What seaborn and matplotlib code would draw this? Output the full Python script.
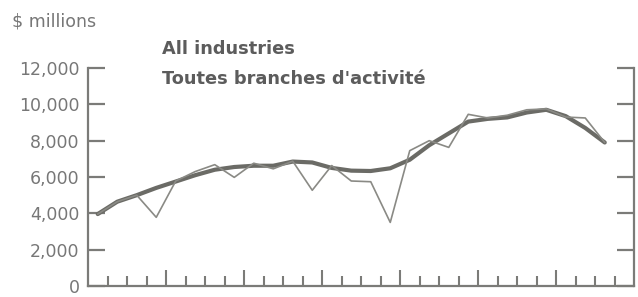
import matplotlib
matplotlib.use("Agg")
import matplotlib.pyplot as plt
import numpy as np
import pandas as pd
import seaborn as sns
from matplotlib.ticker import FixedLocator, FuncFormatter

# quarterly values, $ millions (27 quarters shown on a 28-quarter axis)
quarter = np.arange(1, 28)
actual = [3960, 4640, 5000, 3780, 5780, 6300, 6680, 5980, 6760, 6450,
          6870, 5270, 6630, 5780, 5740, 3500, 7450, 8000, 7630, 9450,
          9250, 9400, 9700, 9750, 9300, 9250, 7900]
trend = [3960, 4640, 5000, 5400, 5750, 6100, 6400, 6550, 6620, 6620,
         6850, 6800, 6500, 6350, 6330, 6480, 6950, 7750, 8400, 9050,
         9200, 9280, 9550, 9700, 9350, 8700, 7900]
y_ticks = [0, 2000, 4000, 6000, 8000, 10000, 12000]

df = pd.DataFrame({"q": quarter - 0.5, "actual": actual, "trend": trend})

sns.set_style("white")
plt.rcParams["font.family"] = ["DejaVu Sans"]

axis_color = "#7b7b78"
text_color = "#777777"

fig = plt.figure(figsize=(6.38, 2.97), dpi=100)
ax = fig.add_axes([88 / 638, 11 / 297, 546 / 638, 218 / 297])

sns.lineplot(data=df, x="q", y="trend", ax=ax, color="#6b6b66", linewidth=3.0,
             solid_joinstyle="round", solid_capstyle="round")
sns.lineplot(data=df, x="q", y="actual", ax=ax, color="#8a8a85", linewidth=1.2)

ax.set_xlim(0, 28)
ax.set_ylim(0, 12000)
ax.set_xlabel("")
ax.set_ylabel("")

# spines
for side in ["left", "right", "bottom"]:
    ax.spines[side].set_visible(True)
    ax.spines[side].set_color(axis_color)
    ax.spines[side].set_linewidth(1.6)
ax.spines["top"].set_visible(False)

# y ticks on both sides, pointing in
ax.yaxis.set_major_locator(FixedLocator(y_ticks))
ax.yaxis.set_major_formatter(FuncFormatter(lambda v, p: f"{int(v):,}"))
ax.tick_params(axis="y", which="major", direction="in", length=12, width=1.6,
               color=axis_color, left=True, right=True, labelleft=True,
               labelright=False, labelsize=12.5, labelcolor=text_color, pad=6)

# x ticks: quarters (minor) and years (major), no labels
ax.xaxis.set_major_locator(FixedLocator([4, 8, 12, 16, 20, 24]))
ax.xaxis.set_minor_locator(FixedLocator([k for k in range(1, 28) if k % 4]))
ax.tick_params(axis="x", which="major", direction="in", length=11.5, width=1.5,
               color=axis_color, bottom=True, labelbottom=False)
ax.tick_params(axis="x", which="minor", direction="in", length=7, width=1.5,
               color=axis_color, bottom=True)

fig.text(12 / 638, 1 - 21.5 / 297, "$ millions", fontsize=12.5,
         color=text_color, va="center", ha="left")
fig.text(162 / 638, 1 - 49 / 297, "All industries", fontsize=12.8,
         fontweight="bold", color="#5c5c5c", va="center", ha="left")
fig.text(162 / 638, 1 - 79 / 297, "Toutes branches d'activité", fontsize=12.8,
         fontweight="bold", color="#5c5c5c", va="center", ha="left")

plt.savefig("out.png", dpi=100)
